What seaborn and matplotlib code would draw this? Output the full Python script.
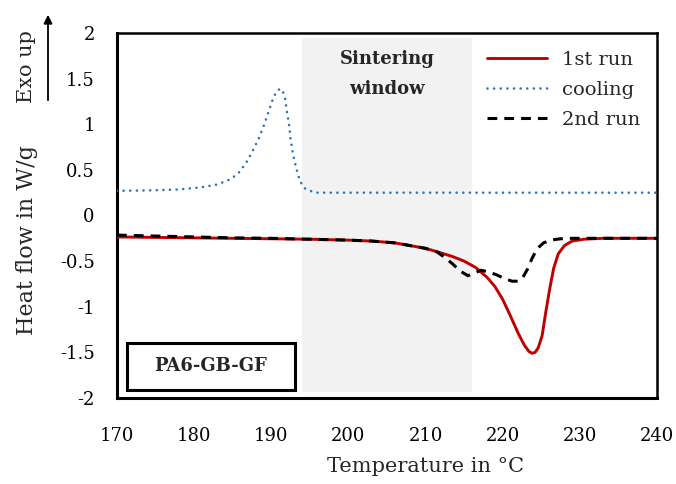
import matplotlib
matplotlib.use("Agg")
import matplotlib.pyplot as plt
import seaborn as sns
import pandas as pd
from matplotlib.lines import Line2D
from matplotlib.patches import Rectangle, FancyArrowPatch

# ---- data ----
run1_T = [170, 175, 180, 185, 190, 195, 200, 203, 206, 208, 210, 212, 213.5, 215, 216.5,
          218, 219, 220, 221, 222, 222.8, 223.4, 223.8, 224.2, 224.6, 225.1, 225.6, 226.1,
          226.6, 227.2, 228, 229, 230.5, 233, 236, 240]
run1_Q = [-0.235, -0.24, -0.245, -0.25, -0.255, -0.26, -0.27, -0.28, -0.30, -0.33, -0.36,
          -0.41, -0.45, -0.50, -0.57, -0.68, -0.78, -0.92, -1.10, -1.29, -1.42, -1.49, -1.51,
          -1.50, -1.45, -1.32, -1.05, -0.80, -0.58, -0.42, -0.33, -0.28, -0.26, -0.25, -0.25, -0.25]

cool_T = [170, 174, 178, 181, 183, 184.5, 185.6, 186.7, 187.6, 188.4, 189.1, 189.7, 190.3,
          190.8, 191.2, 191.5, 191.8, 192.0, 192.3, 192.5, 192.8, 193.2, 193.7, 194.3, 195,
          196, 200, 210, 220, 230, 240]
cool_Q = [0.27, 0.275, 0.285, 0.31, 0.34, 0.39, 0.45, 0.57, 0.71, 0.85, 1.00, 1.15, 1.30,
          1.37, 1.39, 1.36, 1.28, 1.15, 0.995, 0.84, 0.68, 0.53, 0.38, 0.30, 0.27,
          0.25, 0.25, 0.25, 0.25, 0.25, 0.25]

run2_T = [170, 175, 180, 185, 190, 195, 200, 203, 206, 208, 210, 211.5, 212.5, 213.5, 214.5,
          215.5, 216.3, 217.2, 218.2, 219.2, 220.2, 221.2, 222, 222.6, 223.2, 223.8, 224.5,
          225.3, 226.2, 227.5, 229, 232, 236, 240]
run2_Q = [-0.215, -0.225, -0.235, -0.245, -0.25, -0.26, -0.27, -0.28, -0.30, -0.33, -0.36,
          -0.40, -0.46, -0.53, -0.61, -0.66, -0.63, -0.60, -0.62, -0.65, -0.69, -0.72, -0.72,
          -0.68, -0.59, -0.47, -0.36, -0.30, -0.27, -0.255, -0.25, -0.25, -0.25, -0.25]

labels = ["1st run", "cooling", "2nd run"]
window = [194, 216]
window_label = "Sintering\nwindow"
sample = "PA6-GB-GF"
x_ticks = [170, 180, 190, 200, 210, 220, 230, 240]
y_ticks = [-2, -1.5, -1, -0.5, 0, 0.5, 1, 1.5, 2]
y_ticklabels = ["-2", "-1.5", "-1", "-0.5", "0", "0.5", "1", "1.5", "2"]

# ---- style ----
sns.set_theme(style="white")
plt.rcParams["font.family"] = ["DejaVu Serif"]
FS = 13          # tick labels
FG = 14          # legend
FL = 15          # axis titles

fig = plt.figure(figsize=(6.76, 4.84), dpi=100)
W, H = 676, 484
ax = fig.add_axes([117 / W, 1 - 398 / H, (657 - 117) / W, (398 - 33) / H])

RED = "#C00000"
BLUE = "#2E75B6"

# sintering window
ax.fill_between(window, -1.93, 1.945, color="#F2F2F2", zorder=0, linewidth=0)
ax.text(sum(window) / 2, 1.55, window_label, ha="center", va="center",
        fontsize=FS, fontweight="bold", linespacing=1.8)

df1 = pd.DataFrame({"T": run1_T, "Q": run1_Q})
dfc = pd.DataFrame({"T": cool_T, "Q": cool_Q})
df2 = pd.DataFrame({"T": run2_T, "Q": run2_Q})

sns.lineplot(data=df1, x="T", y="Q", ax=ax, color=RED, linewidth=2.1, sort=False, zorder=3)
sns.lineplot(data=dfc, x="T", y="Q", ax=ax, color=BLUE, linewidth=1.9, sort=False, zorder=3)
lc = ax.lines[-1]
lc.set_linestyle((0, (0.01, 2.5)))
lc.set_dash_capstyle("round")
sns.lineplot(data=df2, x="T", y="Q", ax=ax, color="black", linewidth=2.2, sort=False, zorder=4)
ax.lines[-1].set_linestyle((0, (3.2, 2.3)))

ax.set_xlim(170, 240)
ax.set_ylim(-2, 2)
ax.set_xticks(x_ticks)
ax.set_xticklabels([str(t) for t in x_ticks])
ax.set_yticks(y_ticks)
ax.set_yticklabels(y_ticklabels)
ax.tick_params(axis="both", which="major", direction="out", length=5, width=2,
               labelsize=FS, color="black", labelcolor="black")
ax.tick_params(axis="x", pad=16)
ax.tick_params(axis="y", pad=11)
ax.set_xlabel("")
ax.set_ylabel("")
for side in ["left", "bottom"]:
    ax.spines[side].set_linewidth(2.2)
    ax.spines[side].set_color("black")
for side in ["top", "right"]:
    ax.spines[side].set_linewidth(1.8)
    ax.spines[side].set_color("black")
ax.set_facecolor("white")

# legend
handles = [
    Line2D([], [], color=RED, linewidth=2.1),
    Line2D([], [], color=BLUE, linewidth=1.9, linestyle=(0, (0.01, 2.5)), dash_capstyle="round"),
    Line2D([], [], color="black", linewidth=2.2, linestyle=(0, (3.2, 2.3))),
]
leg = ax.legend(handles, labels, loc="upper left", frameon=False, fontsize=FG,
                handlelength=3.1, handletextpad=0.75, labelspacing=0.62,
                bbox_to_anchor=((488 - 117) / 540 - 0.009, 1 - (47 - 33) / 365), borderaxespad=0.0,
                borderpad=0.2)

# sample box
ax.add_patch(Rectangle((0.0185, 0.022), 0.311, 0.129, transform=ax.transAxes,
                       fill=True, facecolor="white", edgecolor="black", linewidth=2.2, zorder=5))
ax.text(0.0185 + 0.311 / 2, 0.022 + 0.129 / 2, sample, transform=ax.transAxes,
        ha="center", va="center", fontsize=FS, fontweight="bold", zorder=6)

# axis titles
fig.text(425 / W, 1 - 466 / H, "Temperature in °C", ha="center", va="center", fontsize=FL)
fig.text(27 / W, 1 - 240 / H, "Heat flow in W/g", rotation=90, ha="center", va="center", fontsize=16)
fig.text(27 / W, 1 - 67 / H, "Exo up", rotation=90, ha="center", va="center", fontsize=15)
fig.add_artist(FancyArrowPatch(
    (48 / W, 1 - 103 / H), (48 / W, 1 - 12 / H), transform=fig.transFigure,
    arrowstyle="-|>,head_length=5,head_width=2.5", color="black", linewidth=1.3))

fig.savefig("out.png", dpi=100, facecolor="white")
